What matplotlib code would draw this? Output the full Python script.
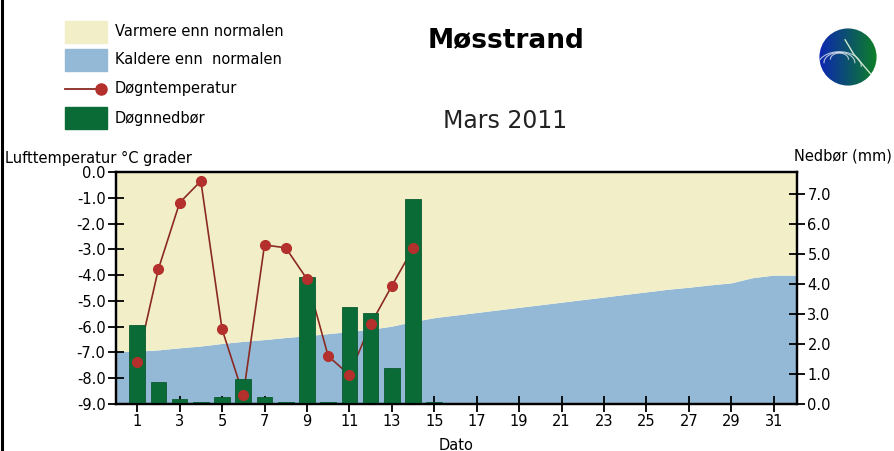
import numpy as np
import matplotlib
matplotlib.use("Agg")
import matplotlib.pyplot as plt
from matplotlib.patches import Rectangle, Circle
from matplotlib.lines import Line2D

#-------------------------------------------------
#   DATA
#-------------------------------------------------
days = np.arange(1, 32)

# daily mean temperature, only first 14 days reported
temp_days = np.arange(1, 15)
temp = [-7.38, -3.76, -1.19, -0.35, -6.10, -8.65, -2.83,
        -2.94, -4.15, -7.14, -7.87, -5.91, -4.42, -2.96]

# daily precipitation (mm)
prec_days = np.arange(1, 16)
prec = [2.62, 0.74, 0.16, 0.08, 0.22, 0.82, 0.22, 0.08,
        4.24, 0.08, 3.22, 3.02, 1.21, 6.83, 0.08]

# normal temperature for each day of March
normal = [-6.95, -6.90, -6.82, -6.75, -6.65, -6.57, -6.50, -6.42,
          -6.35, -6.27, -6.19, -6.10, -5.98, -5.80, -5.65, -5.55,
          -5.45, -5.35, -5.25, -5.15, -5.05, -4.95, -4.85, -4.75,
          -4.65, -4.55, -4.47, -4.38, -4.30, -4.10, -4.00]

temp_ticks = [0, -1, -2, -3, -4, -5, -6, -7, -8, -9]
temp_ticklabels = ["0.0", "-1.0", "-2.0", "-3.0", "-4.0",
                   "-5.0", "-6.0", "-7.0", "-8.0", "-9.0"]
prec_ticks = [0, 1, 2, 3, 4, 5, 6, 7]
prec_ticklabels = ["0.0", "1.0", "2.0", "3.0", "4.0", "5.0", "6.0", "7.0"]
day_ticks = list(range(1, 32, 2))

#-------------------------------------------------
#   STYLE
#-------------------------------------------------
c_warm = "#F2EFC8"
c_cold = "#93B9D6"
c_bar = "#0B6B36"
c_line = "#8A2A22"
c_mark = "#B3302C"

W, H = 894, 451
fig = plt.figure(figsize=(W / 100, H / 100), dpi=100)
fig.patch.set_facecolor("white")

def px(x0, y0, w, h):
    # pixel box (from top-left) -> figure fraction rect
    return [x0 / W, 1 - (y0 + h) / H, w / W, h / H]

ax = fig.add_axes(px(116, 172, 681, 232))
ax2 = ax.twinx()

xmin, xmax = 0.0, 32.1
tmin, tmax = -9.0, 0.0

# background: warmer (yellow) / colder (blue) than normal
xf = np.r_[xmin, days, xmax]
yf = np.r_[normal[0], normal, normal[-1]]
ax.fill_between(xf, tmin, yf, color=c_cold, lw=0, zorder=0)
ax.fill_between(xf, yf, tmax, color=c_warm, lw=0, zorder=0)

# temperature line (under the bars), markers on top
ax.plot(temp_days, temp, color=c_line, lw=1.2, zorder=2)

ax2.bar(prec_days, prec, width=0.74, color=c_bar, edgecolor="#0A5A2E",
        lw=0.6, zorder=2)
ax2.plot(temp_days, temp, ls="none", marker="o", ms=7, color=c_mark,
         transform=ax.transData, zorder=3)

ax.set_xlim(xmin, xmax)
ax.set_ylim(tmin, tmax)
ax2.set_ylim(0, 7.73)

tick_font = dict(fontsize=10.5)
ax.set_yticks(temp_ticks)
ax.set_yticklabels(temp_ticklabels, **tick_font)
ax2.set_yticks(prec_ticks)
ax2.set_yticklabels(prec_ticklabels, **tick_font)
ax.set_xticks(day_ticks)
ax.set_xticklabels([str(d) for d in day_ticks], **tick_font)

for a in (ax, ax2):
    a.tick_params(direction="inout", length=11, width=1.3, pad=2, colors="black")
    for s in a.spines.values():
        s.set_linewidth(1.6)
        s.set_color("black")

ax.set_xlabel("Dato", fontsize=10.5, labelpad=6)

# axis titles
fig.text(5 / W, 1 - 158 / H, "Lufttemperatur °C grader", fontsize=10.5,
         va="center", ha="left")
fig.text(892 / W, 1 - 156 / H, "Nedbør (mm)", fontsize=10.5,
         va="center", ha="right")

# titles
fig.text(506 / W, 1 - 40 / H, "Møsstrand", fontsize=19, fontweight="bold",
         ha="center", va="center")
fig.text(505 / W, 1 - 121 / H, "Mars 2011", fontsize=17, ha="center",
         va="center", color="#222222")

# legend (drawn by hand to match the original layout)
leg_rows = [32, 60, 89, 118]
leg_labels = ["Varmere enn normalen", "Kaldere enn  normalen",
              "Døgntemperatur", "Døgnnedbør"]
for i, (yy, lab) in enumerate(zip(leg_rows, leg_labels)):
    if i == 2:
        fig.add_artist(Line2D([65 / W, 101 / W], [1 - yy / H, 1 - yy / H],
                              color=c_line, lw=1.3, transform=fig.transFigure))
        fig.add_artist(Line2D([101 / W], [1 - yy / H], marker="o", ms=8,
                              color=c_mark, transform=fig.transFigure))
    else:
        col = [c_warm, c_cold, None, c_bar][i]
        fig.add_artist(Rectangle((65 / W, 1 - (yy + 11) / H), 42 / W, 22 / H,
                                 color=col, transform=fig.transFigure))
    fig.text(115 / W, 1 - yy / H, lab, fontsize=10.5, va="center", ha="left")

# logo: simple globe
lax = fig.add_axes(px(818, 27, 60, 60))
lax.set_axis_off()
g = np.linspace(0, 1, 120)
gx, gy = np.meshgrid(g, g)
img = np.zeros((120, 120, 3))
img[..., 0] = 0.05
img[..., 1] = 0.15 + 0.35 * gx
img[..., 2] = 0.55 * (1 - gx) + 0.15
im = lax.imshow(img, extent=(-1, 1, -1, 1), origin="lower")
clip = Circle((0, 0), 1, transform=lax.transData)
im.set_clip_path(clip)
th = np.linspace(0, np.pi, 60)
for r in (0.35, 0.6, 0.85):
    lax.plot(-0.3 + r * np.cos(th) * 0.9, 0.1 + r * np.sin(th) * 0.6 - r * 0.5,
             color="white", lw=0.8, alpha=0.7, clip_path=clip)
lax.plot([-0.1, 0.2, 0.8], [0.6, 0.1, -0.6], color="#CFE8CF", lw=1.0,
         clip_path=clip)
lax.set_xlim(-1.05, 1.05)
lax.set_ylim(-1.05, 1.05)

# black border at the left edge
fig.add_artist(Line2D([1.5 / W, 1.5 / W], [0, 1], color="black", lw=2.2,
                      transform=fig.transFigure))

fig.savefig("out.png", dpi=100)
